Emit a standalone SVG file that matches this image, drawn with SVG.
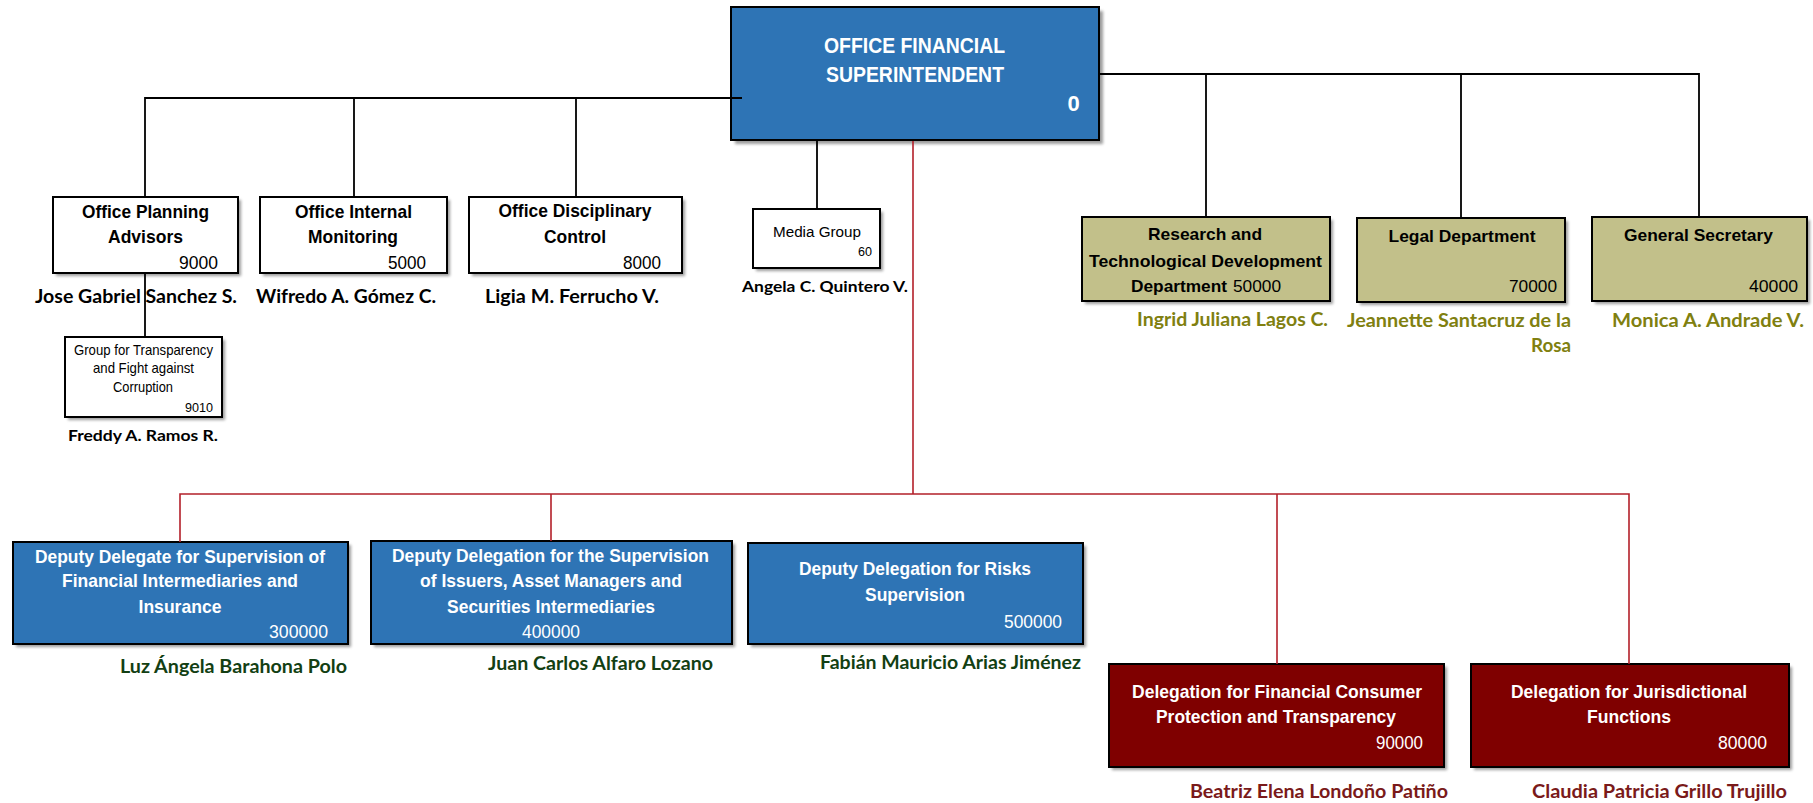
<svg xmlns="http://www.w3.org/2000/svg" width="1813" height="803" viewBox="0 0 1813 803">
<defs>
<filter id="blur" x="-10%" y="-10%" width="120%" height="130%"><feGaussianBlur stdDeviation="1.6"/></filter>
<style>
.bx{stroke:#000;stroke-width:2}
.white{fill:#fff}
.blue{fill:#2e74b5}
.olive{fill:#c2c08a}
.maroon{fill:#7f0000}
.sh{fill:#7a7a7a;opacity:.75;filter:url(#blur)}
.conn{fill:none;stroke:#000;stroke-width:1.8}
.red{fill:none;stroke:#b3202a;stroke-width:1.6}
text{font-family:"Liberation Sans",Arial,sans-serif}
.b{font-weight:bold}
.t18{font-size:18.5px}
.t16{font-size:17px}
.t14{font-size:14.5px}
.w{fill:#fff}
.k{fill:#000}
.nm{font-family:Lato,"Open Sans",sans-serif;font-weight:bold;font-size:18.5px}
.green{fill:#133f13}
.ol{fill:#808010}
.dr{fill:#7a1a1a}
.mid{text-anchor:middle}
.end{text-anchor:end}
</style>
</defs>

<g id="node-superintendent">
<rect class="sh" x="735" y="11" width="368" height="133"/>
<rect class="bx blue" x="731" y="7" width="368" height="133"/>
<text class="b w mid" x="914.5" y="53" font-size="22" textLength="181" lengthAdjust="spacingAndGlyphs">OFFICE FINANCIAL</text>
<text class="b w mid" x="915" y="82" font-size="22" textLength="178" lengthAdjust="spacingAndGlyphs">SUPERINTENDENT</text>
<text class="b w mid" x="1073.5" y="111" font-size="22">0</text>
</g>

<g id="node-planning">
<rect class="sh" x="56" y="200" width="185" height="76"/>
<rect class="bx white" x="53" y="197" width="185" height="76"/>
<text class="b k mid t18" x="145.5" y="218" textLength="127" lengthAdjust="spacingAndGlyphs">Office Planning</text>
<text class="b k mid t18" x="145.5" y="243" textLength="75" lengthAdjust="spacingAndGlyphs">Advisors</text>
<text class="k end t18" x="218" y="269" textLength="39" lengthAdjust="spacingAndGlyphs">9000</text>
<text class="nm k mid" x="136" y="303" textLength="202" lengthAdjust="spacingAndGlyphs">Jose Gabriel Sanchez S.</text>
</g>

<g id="node-transparency">
<rect class="sh" x="68" y="340" width="157" height="80"/>
<rect class="bx white" x="65" y="337" width="157" height="80"/>
<text class="k mid t14" x="143.5" y="355" textLength="139" lengthAdjust="spacingAndGlyphs">Group for Transparency</text>
<text class="k mid t14" x="143.5" y="373" textLength="101" lengthAdjust="spacingAndGlyphs">and Fight against</text>
<text class="k mid t14" x="143" y="392" textLength="60" lengthAdjust="spacingAndGlyphs">Corruption</text>
<text class="k end" x="213" y="412" font-size="13.5" textLength="28" lengthAdjust="spacingAndGlyphs">9010</text>
<text class="nm k mid" x="143" y="441" style="font-size:16px" textLength="150" lengthAdjust="spacingAndGlyphs">Freddy A. Ramos R.</text>
</g>

<g id="node-internal">
<rect class="sh" x="263" y="200" width="187" height="76"/>
<rect class="bx white" x="260" y="197" width="187" height="76"/>
<text class="b k mid t18" x="353.5" y="218" textLength="117" lengthAdjust="spacingAndGlyphs">Office Internal</text>
<text class="b k mid t18" x="353" y="243" textLength="90" lengthAdjust="spacingAndGlyphs">Monitoring</text>
<text class="k end t18" x="426" y="269" textLength="38" lengthAdjust="spacingAndGlyphs">5000</text>
<text class="nm k mid" x="346" y="303" textLength="180" lengthAdjust="spacingAndGlyphs">Wifredo A. Gómez C.</text>
</g>

<g id="node-disciplinary">
<rect class="sh" x="472" y="200" width="213" height="76"/>
<rect class="bx white" x="469" y="197" width="213" height="76"/>
<text class="b k mid t18" x="575" y="217" textLength="153" lengthAdjust="spacingAndGlyphs">Office Disciplinary</text>
<text class="b k mid t18" x="575" y="243" textLength="62" lengthAdjust="spacingAndGlyphs">Control</text>
<text class="k end t18" x="661" y="269" textLength="38" lengthAdjust="spacingAndGlyphs">8000</text>
<text class="nm k mid" x="572" y="303" textLength="174" lengthAdjust="spacingAndGlyphs">Ligia M. Ferrucho V.</text>
</g>

<g id="node-media">
<rect class="sh" x="756" y="212" width="127" height="59"/>
<rect class="bx white" x="753" y="209" width="127" height="59"/>
<text class="k mid" x="817" y="237" font-size="15.5" textLength="88" lengthAdjust="spacingAndGlyphs">Media Group</text>
<text class="k end" x="872" y="256" font-size="13.5" textLength="14" lengthAdjust="spacingAndGlyphs">60</text>
<text class="nm k mid" x="825" y="292" style="font-size:16px" textLength="166" lengthAdjust="spacingAndGlyphs">Angela C. Quintero V.</text>
</g>

<g id="node-research">
<rect class="sh" x="1085" y="220" width="248" height="84"/>
<rect class="bx olive" x="1082" y="217" width="248" height="84"/>
<text class="b k mid t16" x="1205" y="240" textLength="114" lengthAdjust="spacingAndGlyphs">Research and</text>
<text class="b k mid t16" x="1205.5" y="267" textLength="233" lengthAdjust="spacingAndGlyphs">Technological Development</text>
<text class="b k t16" x="1131" y="292" textLength="96" lengthAdjust="spacingAndGlyphs">Department</text>
<text class="k t16" x="1233" y="292" textLength="48" lengthAdjust="spacingAndGlyphs">50000</text>
<text class="nm ol end" x="1328" y="326" textLength="191" lengthAdjust="spacingAndGlyphs">Ingrid Juliana Lagos C.</text>
</g>

<g id="node-legal">
<rect class="sh" x="1360" y="221" width="208" height="84"/>
<rect class="bx olive" x="1357" y="218" width="208" height="84"/>
<text class="b k mid t16" x="1462" y="242" textLength="147" lengthAdjust="spacingAndGlyphs">Legal Department</text>
<text class="k end t16" x="1557" y="292" textLength="48" lengthAdjust="spacingAndGlyphs">70000</text>
<text class="nm ol end" x="1571" y="327" textLength="224" lengthAdjust="spacingAndGlyphs">Jeannette Santacruz de la</text>
<text class="nm ol end" x="1571" y="352" textLength="40" lengthAdjust="spacingAndGlyphs">Rosa</text>
</g>

<g id="node-secretary">
<rect class="sh" x="1595" y="220" width="215" height="84"/>
<rect class="bx olive" x="1592" y="217" width="215" height="84"/>
<text class="b k mid t16" x="1698.5" y="241" textLength="149" lengthAdjust="spacingAndGlyphs">General Secretary</text>
<text class="k end t16" x="1798" y="292" textLength="49" lengthAdjust="spacingAndGlyphs">40000</text>
<text class="nm ol end" x="1804" y="327" textLength="192" lengthAdjust="spacingAndGlyphs">Monica A. Andrade V.</text>
</g>

<g id="node-deputy-financial">
<rect class="sh" x="16" y="545" width="335" height="102"/>
<rect class="bx blue" x="13" y="542" width="335" height="102"/>
<text class="b w mid t18" x="180" y="563" textLength="290" lengthAdjust="spacingAndGlyphs">Deputy Delegate for Supervision of</text>
<text class="b w mid t18" x="180" y="587" textLength="236" lengthAdjust="spacingAndGlyphs">Financial Intermediaries and</text>
<text class="b w mid t18" x="180" y="613" textLength="83" lengthAdjust="spacingAndGlyphs">Insurance</text>
<text class="w end t18" x="328" y="638" textLength="59" lengthAdjust="spacingAndGlyphs">300000</text>
<text class="nm green mid" x="233.5" y="673" textLength="227" lengthAdjust="spacingAndGlyphs">Luz Ángela Barahona Polo</text>
</g>

<g id="node-deputy-issuers">
<rect class="sh" x="374" y="544" width="361" height="103"/>
<rect class="bx blue" x="371" y="541" width="361" height="103"/>
<text class="b w mid t18" x="550.5" y="562" textLength="317" lengthAdjust="spacingAndGlyphs">Deputy Delegation for the Supervision</text>
<text class="b w mid t18" x="551" y="587" textLength="262" lengthAdjust="spacingAndGlyphs">of Issuers, Asset Managers and</text>
<text class="b w mid t18" x="551" y="613" textLength="208" lengthAdjust="spacingAndGlyphs">Securities Intermediaries</text>
<text class="w mid t18" x="551" y="638" textLength="58" lengthAdjust="spacingAndGlyphs">400000</text>
<text class="nm green mid" x="600.5" y="670" textLength="225" lengthAdjust="spacingAndGlyphs">Juan Carlos Alfaro Lozano</text>
</g>

<g id="node-deputy-risks">
<rect class="sh" x="751" y="546" width="335" height="101"/>
<rect class="bx blue" x="748" y="543" width="335" height="101"/>
<text class="b w mid t18" x="915" y="575" textLength="232" lengthAdjust="spacingAndGlyphs">Deputy Delegation for Risks</text>
<text class="b w mid t18" x="915" y="601" textLength="100" lengthAdjust="spacingAndGlyphs">Supervision</text>
<text class="w end t18" x="1062" y="628" textLength="58" lengthAdjust="spacingAndGlyphs">500000</text>
<text class="nm green mid" x="950.5" y="669" textLength="261" lengthAdjust="spacingAndGlyphs">Fabián Mauricio Arias Jiménez</text>
</g>

<g id="node-consumer">
<rect class="sh" x="1112" y="667" width="335" height="103"/>
<rect class="bx maroon" x="1109" y="664" width="335" height="103"/>
<text class="b w mid t18" x="1277" y="698" textLength="290" lengthAdjust="spacingAndGlyphs">Delegation for Financial Consumer</text>
<text class="b w mid t18" x="1276" y="723" textLength="240" lengthAdjust="spacingAndGlyphs">Protection and Transparency</text>
<text class="w end t18" x="1423" y="749" textLength="47" lengthAdjust="spacingAndGlyphs">90000</text>
<text class="nm dr mid" x="1319" y="798" textLength="258" lengthAdjust="spacingAndGlyphs">Beatriz Elena Londoño Patiño</text>
</g>

<g id="node-jurisdictional">
<rect class="sh" x="1474" y="667" width="318" height="103"/>
<rect class="bx maroon" x="1471" y="664" width="318" height="103"/>
<text class="b w mid t18" x="1629" y="698" textLength="236" lengthAdjust="spacingAndGlyphs">Delegation for Jurisdictional</text>
<text class="b w mid t18" x="1629" y="723" textLength="84" lengthAdjust="spacingAndGlyphs">Functions</text>
<text class="w end t18" x="1767" y="749" textLength="49" lengthAdjust="spacingAndGlyphs">80000</text>
<text class="nm dr mid" x="1659.5" y="798" textLength="255" lengthAdjust="spacingAndGlyphs">Claudia Patricia Grillo Trujillo</text>
</g>

<g id="connectors">
<path class="conn" d="M742,98 H145 V197 M354,98 V197 M576,98 V197 M145,273 V337 M1099,74 H1699 V217 M1206,74 V217 M1461,74 V218 M817,140 V209"/>
<path class="red" d="M913,141 V494 M180,542 V494 H1629 V664 M551,494 V541 M1277,494 V664"/>
</g>
</svg>
